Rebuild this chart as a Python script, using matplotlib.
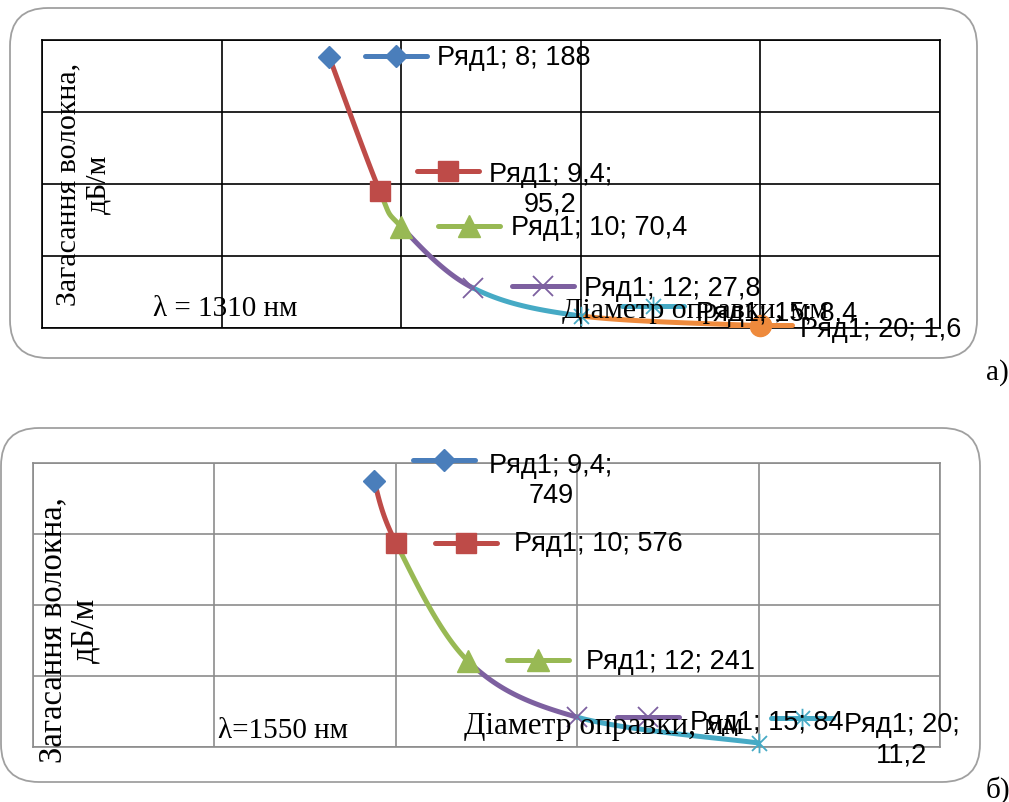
import numpy as np
import matplotlib
matplotlib.use("Agg")
import matplotlib.pyplot as plt
from matplotlib.lines import Line2D
from matplotlib.patches import FancyBboxPatch
from matplotlib.path import Path
from matplotlib.transforms import IdentityTransform

# data
diam_1310 = [8, 9.4, 10, 12, 15, 20]
loss_1310 = [188, 95.2, 70.4, 27.8, 8.4, 1.6]
diam_1550 = [9.4, 10, 12, 15, 20]
loss_1550 = [749, 576, 241, 84, 11.2]
series_name = "Ряд1"
wrap_1310 = [False, True, False, False, False, False]
wrap_1550 = [True, False, False, False, True]

W, H = 1009, 803
fig = plt.figure(figsize=(W / 100, H / 100), dpi=100)
PIX = IdentityTransform()

# excel 2007 point colours
colors = ['#4A7EBB', '#BE4B48', '#98B954', '#7D60A0', '#46AAC5', '#EE8A3C']
star = Path([(-1, -1), (1, 1), (-1, 1), (1, -1), (0, -1.3), (0, 1.3)],
            [Path.MOVETO, Path.LINETO] * 3)
markers = [dict(marker='D', ms=11.5),
           dict(marker='s', ms=15),
           dict(marker='^', ms=16),
           dict(marker='x', ms=14, mew=1.3),
           dict(marker=star, ms=14, mew=1.3),
           dict(marker='o', ms=14.5)]

serif = 'Liberation Serif'
sans = ['Liberation Sans', 'DejaVu Sans']


def axes_px(left, top, right, bottom):
    return fig.add_axes([left / W, 1 - bottom / H, (right - left) / W, (bottom - top) / H])


def box_px(left, top, right, bottom):
    fig.add_artist(FancyBboxPatch((left, H - bottom), right - left, bottom - top,
                                  boxstyle='round,pad=0,rounding_size=38',
                                  transform=PIX, facecolor='none',
                                  edgecolor='#a0a0a0', lw=1.3, zorder=0))


def bezier(xs, ys):
    # excel-like smoothed line: catmull-rom style bezier pieces
    p = np.column_stack([xs, ys]).astype(float)
    ext = np.vstack([p[0], p, p[-1]])
    t = np.linspace(0, 1, 50)[:, None]
    segs = []
    for i in range(len(p) - 1):
        p0, p3 = p[i], p[i + 1]
        c1 = p0 + (ext[i + 2] - ext[i]) / 6
        c2 = p3 - (ext[i + 3] - ext[i + 1]) / 6
        segs.append((1 - t) ** 3 * p0 + 3 * (1 - t) ** 2 * t * c1
                    + 3 * (1 - t) * t ** 2 * c2 + t ** 3 * p3)
    return segs


def fmt(v):
    return ('%g' % v).replace('.', ',')


def draw_chart(ax, xs, ys, ymax, ystep, gcol, wraps, offsets, start):
    ax.set_xlim(0, 25)
    ax.set_ylim(0, ymax)
    ax.set_xticks(np.arange(0, 26, 5))
    ax.set_yticks(np.arange(0, ymax + 1, ystep))
    ax.tick_params(length=0, labelbottom=False, labelleft=False)
    ax.grid(True, color=gcol, lw=1.2)
    for s in ax.spines.values():
        s.set_color(gcol)
        s.set_linewidth(1.2)

    for i, seg in enumerate(bezier(xs, ys)):
        c = colors[start + i + 1]
        ax.plot(seg[:, 0], seg[:, 1], color=c, lw=3.6,
                solid_capstyle='round', clip_on=False, zorder=3)
    for i, (x, y) in enumerate(zip(xs, ys)):
        c = colors[start + i]
        ax.plot([x], [y], color=c, mec=c, ls='none', clip_on=False, zorder=4,
                **markers[start + i])

    # data labels with legend keys
    for i, (x, y) in enumerate(zip(xs, ys)):
        c = colors[start + i]
        kdx, kdy, tdx, tdy = offsets[i]
        bx, by = ax.transData.transform((x, y))
        ky = by - kdy
        fig.add_artist(Line2D([bx + kdx, bx + kdx + 62], [ky, ky], transform=PIX,
                              color=c, lw=3.6, solid_capstyle='round', zorder=5))
        fig.add_artist(Line2D([bx + kdx + 31], [ky], transform=PIX, color=c, mec=c,
                              ls='none', zorder=5, **markers[start + i]))
        sep = '\n' if wraps[i] else ' '
        txt = "%s; %s;%s%s" % (series_name, fmt(x), sep, fmt(y))
        fig.text(bx + tdx, by - tdy, txt, transform=PIX, ha='left', va='center',
                 multialignment='center', family=sans, fontsize=19.5,
                 linespacing=1.2, zorder=6)


# ---- a) 1310 nm ----
box_px(10, 9, 977, 359)
ax1 = axes_px(42, 41, 940, 329)
off_1310 = [(36, -1, 108, 0),
            (37, -20, 109, -2),
            (37, -1, 110, 0),
            (39, -2, 111, 0),
            (41, -10, 115, -3),
            (-30, -1, 40, 3)]
draw_chart(ax1, diam_1310, loss_1310, 200, 50, 'black', wrap_1310, off_1310, 0)

fig.text(153, H - 309, "λ = 1310 нм", transform=PIX, family=serif, fontsize=21,
         ha='left', va='center', zorder=6)
fig.text(562, H - 311, "Діаметр оправки, мм", transform=PIX, family=serif,
         fontsize=21.5, ha='left', va='center', zorder=6)
fig.text(83, H - 184, "Загасання волокна,\nдБ/м", transform=PIX, family=serif,
         fontsize=21.5, rotation=90, ha='center', va='center',
         multialignment='center', linespacing=1.2, zorder=6)
fig.text(986, H - 373, "а)", transform=PIX, family=serif, fontsize=21,
         ha='left', va='center')

# ---- б) 1550 nm ----
box_px(1, 429, 980, 783)
ax2 = axes_px(33, 464, 940, 748)
off_1550 = [(39, -21, 115, -1),
            (39, 0, 118, 0),
            (39, -1, 118, 0),
            (40, 0, 113, 5),
            (12, -25, 85, -4)]
draw_chart(ax2, diam_1550, loss_1550, 800, 200, '#8c8c8c', wrap_1550, off_1550, 0)

fig.text(218, H - 731, "λ=1550 нм", transform=PIX, family=serif, fontsize=21,
         ha='left', va='center', zorder=6)
fig.text(464, H - 727, "Діаметр оправки, мм", transform=PIX, family=serif,
         fontsize=22.5, ha='left', va='center', zorder=6)
fig.text(69, H - 630, "Загасання волокна,\nдБ/м", transform=PIX, family=serif,
         fontsize=23.5, rotation=90, ha='center', va='center',
         multialignment='center', linespacing=1.05, zorder=6)
fig.text(986, H - 790, "б)", transform=PIX, family=serif, fontsize=21,
         ha='left', va='center')

fig.savefig("out.png", dpi=100)
